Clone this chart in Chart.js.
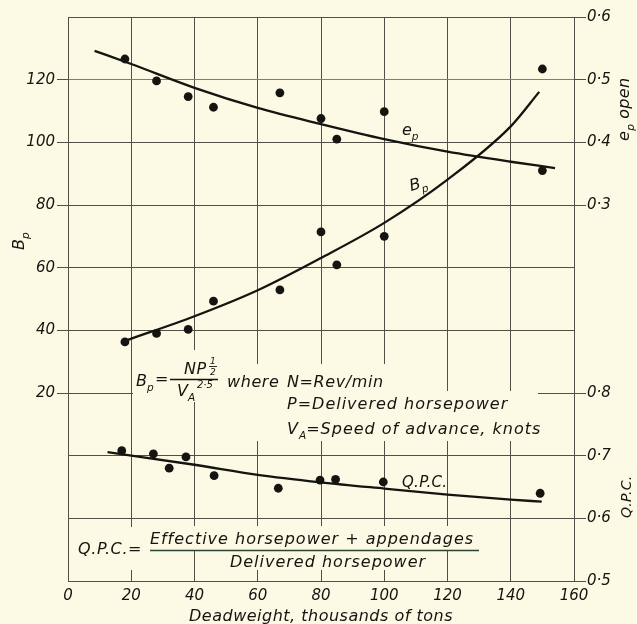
<!DOCTYPE html>
<html>
<head>
<meta charset="utf-8">
<title>Propeller loading, efficiency and Q.P.C. against deadweight</title>
<script src="https://cdn.jsdelivr.net/npm/chart.js@4.4.1/dist/chart.umd.min.js"></script>
<style>
  html, body { margin: 0; padding: 0; background: #fcf9e4; }
  canvas { display: block; }
</style>
</head>
<body>
<canvas id="chart" width="637" height="624"></canvas>
<script>
// Deadweight (thousands of tons) of the ships plotted
const shipDeadweight = [18, 28, 38, 46, 67, 80, 85, 100, 150];
// Propeller load coefficient Bp of each ship
const bpPoints = [36.3, 39.0, 40.3, 49.3, 52.9, 71.4, 60.9, 70.0, 123.4];
// Open-water propeller efficiency ep of each ship
const epPoints = [0.533, 0.498, 0.473, 0.456, 0.479, 0.438, 0.405, 0.449, 0.355];
// Q.P.C. observations
const qpcDeadweight = [17, 27, 32, 37.3, 46.2, 66.5, 79.7, 84.6, 99.7, 149.3];
const qpcPoints = [0.708, 0.703, 0.680, 0.698, 0.668, 0.648, 0.661, 0.662, 0.658, 0.640];

// Faired mean curves
const bpCurveDeadweight = [18.5, 40, 60, 80, 100, 120, 140, 149];
const bpCurve = [36.8, 44.5, 52.8, 63.1, 74.3, 88.1, 105.1, 116.1];
const epCurveDeadweight = [8.4, 20, 40, 60, 80, 100, 120, 140, 154];
const epCurve = [0.546, 0.525, 0.487, 0.455, 0.429, 0.405, 0.385, 0.369, 0.359];
const qpcCurveDeadweight = [12.5, 40, 60, 80, 100, 120, 140, 149.8];
const qpcCurve = [0.7055, 0.6855, 0.6695, 0.6575, 0.6475, 0.638, 0.630, 0.6265];

// Axis ticks and their labels
const xTicks = [0, 20, 40, 60, 80, 100, 120, 140, 160];
const xTickLabels = ['0', '20', '40', '60', '80', '100', '120', '140', '160'];
const yTicks = [-40, -20, 0, 20, 40, 60, 80, 100, 120, 140];
const bpTickLabels = ['', '', '', '20', '40', '60', '80', '100', '120', ''];
const rightTickLabels = ['0·5', '0·6', '0·7', '0·8', '', '', '0·3', '0·4', '0·5', '0·6'];

const PAPER = '#fcf9e4';
const INK = '#141410';
const GRID = '#505046';
const GREEN_GRID = '#5f8f62';
const FAMILY = '"DejaVu Sans", "Liberation Sans", sans-serif';

const pairs = (xs, ys) => xs.map((x, i) => ({ x, y: ys[i] }));

function setFont(c, size) { c.font = 'italic ' + size + 'px ' + FAMILY; }

// Draws a run of text pieces; shift -1 = subscript, 1 = superscript
function drawRuns(c, runs, x, y, size, spacing) {
  let cx = x;
  for (const [t, s] of runs) {
    const sz = s ? size * 0.66 : size;
    setFont(c, sz);
    c.letterSpacing = (s ? 0 : spacing) + 'px';
    const dy = s < 0 ? size * 0.3 : (s > 0 ? -size * 0.45 : 0);
    c.fillText(t, cx, y + dy);
    cx += c.measureText(t).width;
  }
  return cx - x;
}
function runsWidth(c, runs, size, spacing) {
  let w = 0;
  for (const [t, s] of runs) {
    setFont(c, s ? size * 0.66 : size);
    c.letterSpacing = (s ? 0 : spacing) + 'px';
    w += c.measureText(t).width;
  }
  return w;
}

// Areas of the grid cleared behind the lettered notes
const clearBoxes = [
  [133, 350, 90, 52],
  [222, 364, 168, 29],
  [222, 391, 316, 50],
  [74, 527, 78, 43],
  [150, 526, 330, 24],
  [226, 551, 204, 19]
];

const notesPlugin = {
  id: 'notes',
  beforeDraw(chart) {
    const c = chart.ctx;
    c.save();
    c.fillStyle = PAPER;
    c.fillRect(0, 0, chart.width, chart.height);
    c.restore();
  },
  beforeDatasetsDraw(chart) {
    const c = chart.ctx;
    const area = chart.chartArea;
    c.save();
    c.fillStyle = PAPER;
    for (const [x, y, w, h] of clearBoxes) c.fillRect(x, y, w, h);

    c.fillStyle = INK;
    c.strokeStyle = INK;
    c.textBaseline = 'alphabetic';
    c.textAlign = 'left';

    // Bp = N P^1/2 / VA^2.5
    drawRuns(c, [['B', 0], ['p', -1]], 136, 386, 16, 0);
    drawRuns(c, [['=', 0]], 155, 384, 16, 0);
    c.lineWidth = 1.3;
    c.beginPath(); c.moveTo(170, 379.5); c.lineTo(218, 379.5); c.stroke();
    drawRuns(c, [['NP', 0]], 184, 374, 16, 0.5);
    setFont(c, 9); c.letterSpacing = '0px';
    c.fillText('1', 210, 364);
    c.lineWidth = 0.9;
    c.beginPath(); c.moveTo(209, 366.5); c.lineTo(217, 366.5); c.stroke();
    c.fillText('2', 210, 375);
    drawRuns(c, [['V', 0], ['A', -1]], 177, 396, 16, 0);
    setFont(c, 10); c.fillText('2·5', 197, 388);

    drawRuns(c, [['where', 0]], 227, 387, 16, 0.6);
    drawRuns(c, [['N=Rev/min', 0]], 287, 387, 16, 0.6);
    drawRuns(c, [['P=Delivered horsepower', 0]], 287, 409, 16, 1);
    drawRuns(c, [['V', 0], ['A', -1], ['=Speed of advance, knots', 0]], 287, 434, 16, 1);

    // Q.P.C. = (Effective horsepower + appendages) / Delivered horsepower
    drawRuns(c, [['Q.P.C.=', 0]], 78, 554, 16, 0.6);
    c.strokeStyle = '#2a4630';
    c.lineWidth = 1.4;
    c.beginPath(); c.moveTo(150, 550.5); c.lineTo(479, 550.5); c.stroke();
    const num = [['Effective horsepower + appendages', 0]];
    const nw = runsWidth(c, num, 16, 1);
    drawRuns(c, num, 312 - nw / 2, 544, 16, 1);
    const den = [['Delivered horsepower', 0]];
    const dw = runsWidth(c, den, 16, 1);
    drawRuns(c, den, 328 - dw / 2, 567, 16, 1);

    // Curve names
    drawRuns(c, [['e', 0], ['p', -1]], 402, 135, 16, 0);
    c.save();
    c.translate(411, 191);
    c.rotate(-0.27);
    drawRuns(c, [['B', 0], ['p', -1]], 0, 0, 16, 0);
    c.restore();
    drawRuns(c, [['Q.P.C.', 0]], 402, 487, 15, 0.3);

    // Axis titles
    c.save();
    c.translate(24, 250);
    c.rotate(-Math.PI / 2);
    drawRuns(c, [['B', 0], ['p', -1]], 0, 0, 16, 0);
    c.restore();

    c.save();
    c.translate(629, 141);
    c.rotate(-Math.PI / 2);
    drawRuns(c, [['e', 0], ['p', -1], [' open', 0]], 0, 0, 16, 0.3);
    c.restore();

    c.save();
    c.translate(631, 518);
    c.rotate(-Math.PI / 2);
    drawRuns(c, [['Q.P.C.', 0]], 0, 0, 14, 0.3);
    c.restore();

    const title = [['Deadweight, thousands of tons', 0]];
    const tw = runsWidth(c, title, 16, 0.5);
    drawRuns(c, title, (area.left + area.right) / 2 - tw / 2, 621, 16, 0.5);
    c.restore();
  }
};

const tickFont = { family: FAMILY, style: 'italic', size: 15 };

const curveStyle = {
  showLine: true, pointRadius: 0, borderColor: INK, borderWidth: 2.3,
  cubicInterpolationMode: 'monotone', fill: false
};
const dotStyle = {
  showLine: false, pointRadius: 4.4, pointBackgroundColor: INK,
  pointBorderWidth: 0, backgroundColor: INK, borderColor: INK
};

new Chart(document.getElementById('chart'), {
  type: 'scatter',
  data: {
    datasets: [
      Object.assign({ label: 'ep curve', data: pairs(epCurveDeadweight, epCurve), yAxisID: 'yEp' }, curveStyle),
      Object.assign({ label: 'Bp curve', data: pairs(bpCurveDeadweight, bpCurve), yAxisID: 'y' }, curveStyle),
      Object.assign({ label: 'Q.P.C. curve', data: pairs(qpcCurveDeadweight, qpcCurve), yAxisID: 'yQpc' }, curveStyle),
      Object.assign({ label: 'ep', data: pairs(shipDeadweight, epPoints), yAxisID: 'yEp' }, dotStyle),
      Object.assign({ label: 'Bp', data: pairs(shipDeadweight, bpPoints), yAxisID: 'y' }, dotStyle),
      Object.assign({ label: 'Q.P.C.', data: pairs(qpcDeadweight, qpcPoints), yAxisID: 'yQpc' }, dotStyle)
    ]
  },
  options: {
    responsive: false,
    animation: false,
    devicePixelRatio: 1,
    layout: { padding: { top: 17, left: 0, right: 0, bottom: 0 } },
    plugins: { legend: { display: false }, tooltip: { enabled: false } },
    scales: {
      x: {
        type: 'linear', position: 'bottom', min: 0, max: 160,
        afterBuildTicks: s => { s.ticks = xTicks.map(v => ({ value: v })); },
        ticks: {
          autoSkip: false, maxRotation: 0, padding: 6, color: INK, font: tickFont,
          callback: v => xTickLabels[xTicks.indexOf(v)] ?? ''
        },
        grid: { color: GRID, lineWidth: 1, drawTicks: false },
        border: { color: GRID, width: 1 },
        afterFit: s => { s.height = 43; }
      },
      y: {
        type: 'linear', position: 'left', min: -40, max: 140,
        afterBuildTicks: s => { s.ticks = yTicks.map(v => ({ value: v })); },
        ticks: {
          autoSkip: false, padding: 2, color: INK, font: tickFont,
          callback: v => bpTickLabels[yTicks.indexOf(v)] ?? ''
        },
        grid: {
          lineWidth: 1, tickLength: 11,
          color: ctx => (ctx.tick && ctx.tick.value === 120 ? GREEN_GRID : GRID),
          tickColor: ctx => (ctx.tick && bpTickLabels[yTicks.indexOf(ctx.tick.value)] ? GRID : 'rgba(0,0,0,0)')
        },
        border: { color: GRID, width: 1 },
        afterFit: s => { s.width = 68; }
      },
      yRight: {
        type: 'linear', position: 'right', min: -40, max: 140,
        afterBuildTicks: s => { s.ticks = yTicks.map(v => ({ value: v })); },
        ticks: {
          autoSkip: false, padding: 1, color: INK, font: tickFont,
          callback: v => rightTickLabels[yTicks.indexOf(v)] ?? ''
        },
        grid: {
          drawOnChartArea: false, tickLength: 12, lineWidth: 1,
          tickColor: ctx => (ctx.tick && rightTickLabels[yTicks.indexOf(ctx.tick.value)] ? GRID : 'rgba(0,0,0,0)')
        },
        border: { color: GRID, width: 1 },
        afterFit: s => { s.width = 63; }
      },
      yEp: { type: 'linear', display: false, min: -0.3, max: 0.6 },
      yQpc: { type: 'linear', display: false, min: 0.5, max: 1.4 }
    }
  },
  plugins: [notesPlugin]
});
</script>
</body>
</html>
